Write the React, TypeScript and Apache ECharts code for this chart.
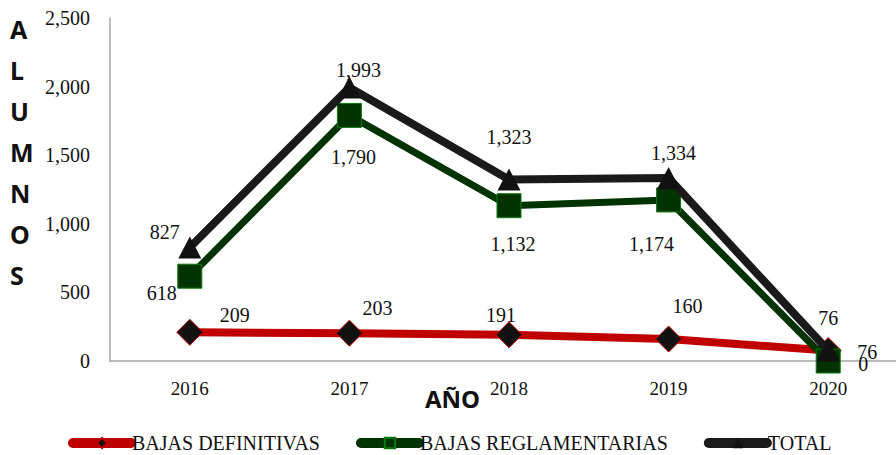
import React, { useEffect, useRef } from "react";
import * as echarts from "echarts";

const years = ["2016", "2017", "2018", "2019", "2020"];
const definitivas = [209, 203, 191, 160, 76];
const reglamentarias = [618, 1790, 1132, 1174, 0];
const total = [827, 1993, 1323, 1334, 76];
const yTicks = [0, 500, 1000, 1500, 2000, 2500];

// label offsets (pixels) relative to each point
const defOffsets = [[45, -17], [28, -25], [-8, -20], [19, -33], [39, 1]];
const regOffsets = [[-28, 17], [4, 42], [4, 38], [-17, 44], [35, 3]];
const totOffsets = [[-25, -16], [9, -18], [0, -42], [5, -25], [0, -33]];

const fmt = (v: number) => v.toLocaleString("en-US");
const SERIF = "'Liberation Serif', 'DejaVu Serif', serif";

function withLabels(values: number[], offsets: number[][]) {
  return values.map((v, i) => ({
    value: v,
    label: { offset: offsets[i] },
  }));
}

export default function App() {
  const ref = useRef<HTMLDivElement>(null);
  useEffect(() => {
    if (!ref.current) return;
    const chart = echarts.init(ref.current, null, { renderer: "svg" });
    const labelBase = {
      show: true,
      position: "inside",
      align: "center",
      verticalAlign: "middle",
      fontFamily: SERIF,
      fontSize: 20,
      color: "#111",
      formatter: (p: any) => fmt(p.value),
    };
    chart.setOption({
      animation: false,
      backgroundColor: "#fff",
      grid: { left: 110, top: 18, width: 798, height: 343 },
      xAxis: {
        type: "category",
        data: years,
        boundaryGap: true,
        axisLine: { lineStyle: { color: "#a6a6a6", width: 1.5 } },
        axisTick: { show: false },
        axisLabel: { fontFamily: SERIF, fontSize: 19, color: "#111", margin: 18 },
      },
      yAxis: {
        type: "value",
        min: yTicks[0],
        max: yTicks[yTicks.length - 1],
        interval: 500,
        splitLine: { show: false },
        axisLine: { show: true, lineStyle: { color: "#a6a6a6", width: 1.5 } },
        axisTick: { show: false },
        axisLabel: {
          fontFamily: SERIF,
          fontSize: 20,
          color: "#111",
          margin: 20,
          formatter: (v: number) => fmt(v),
        },
      },
      legend: {
        left: 63,
        top: 428,
        itemWidth: 58,
        itemHeight: 13,
        itemGap: 36,
        lineStyle: { width: 10, cap: "round" },
        textStyle: { fontFamily: SERIF, fontSize: 20, color: "#111", padding: [0, 0, 0, -4] },
        data: ["BAJAS DEFINITIVAS", "BAJAS REGLAMENTARIAS", "TOTAL"],
      },
      graphic: [
        {
          type: "text",
          left: 10,
          top: 8,
          style: {
            text: "A\nL\nU\nM\nN\nO\nS",
            font: "bold 25px 'Noto Sans', 'Open Sans', sans-serif",
            fill: "#111",
            lineHeight: 41,
            align: "center",
          },
        },
        {
          type: "text",
          left: 425,
          top: 386,
          style: {
            text: "AÑO",
            font: "bold 24px 'Noto Sans', 'Open Sans', sans-serif",
            fill: "#111",
          },
        },
      ],
      series: [
        {
          name: "BAJAS DEFINITIVAS",
          type: "line",
          data: withLabels(definitivas, defOffsets),
          symbol: "diamond",
          symbolSize: 26,
          lineStyle: { color: "#c00000", width: 8 },
          itemStyle: { color: "#111111", borderColor: "#c00000", borderWidth: 1 },
          label: labelBase,
          z: 2,
        },
        {
          name: "BAJAS REGLAMENTARIAS",
          type: "line",
          data: withLabels(reglamentarias, regOffsets),
          symbol: "rect",
          symbolSize: 24,
          lineStyle: { color: "#003300", width: 7 },
          itemStyle: { color: "#003300", borderColor: "#0b7a0b", borderWidth: 1 },
          label: labelBase,
          z: 3,
        },
        {
          name: "TOTAL",
          type: "line",
          data: withLabels(total, totOffsets),
          symbol: "triangle",
          symbolSize: [23, 22],
          lineStyle: { color: "#1a1a1a", width: 8 },
          itemStyle: { color: "#111111" },
          label: labelBase,
          z: 4,
        },
      ],
    });
    return () => chart.dispose();
  }, []);
  return (
    <div
      style={{
        position: "fixed",
        left: 0,
        top: 0,
        width: 896,
        height: 455,
        overflow: "hidden",
        background: "#fff",
      }}
    >
      <div ref={ref} style={{ width: 914, height: 455 }} />
    </div>
  );
}
